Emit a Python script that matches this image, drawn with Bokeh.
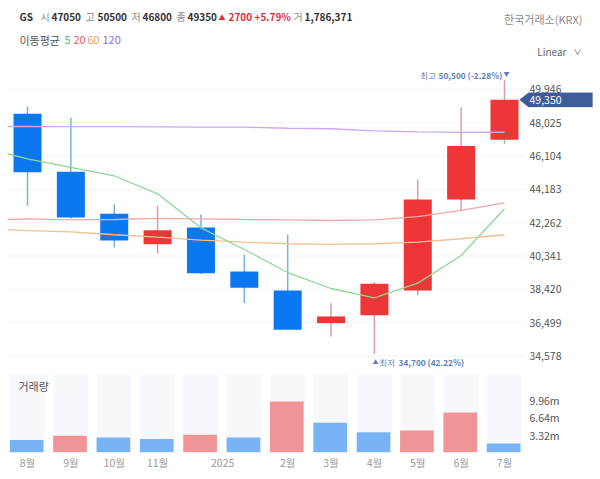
from bokeh.embed import file_html
from bokeh.layouts import column
from bokeh.models import ColumnDataSource, FixedTicker, Label, LinearAxis, NumeralTickFormatter, PolyAnnotation
from bokeh.plotting import figure
from bokeh.resources import INLINE

idx = list(range(12))
month_ticks = [0, 1, 2, 3, 4.5, 6, 7, 8, 9, 10, 11]
month_labels = ["8월", "9월", "10월", "11월", "2025", "2월", "3월", "4월", "5월", "6월", "7월"]

opens = [48550, 45200, 42780, 41020, 41990, 39450, 38350, 36470, 36930, 38350, 43600, 47050]
highs = [48960, 48310, 43310, 43260, 42740, 40430, 41580, 37620, 38830, 44750, 48920, 50500]
lows = [43240, 42500, 40830, 40470, 39300, 37620, 36090, 35700, 34700, 38080, 42970, 46800]
closes = [45180, 42560, 41240, 41830, 39350, 38510, 36090, 36860, 38740, 43600, 46680, 49350]
volumes = [2.38, 3.2, 2.88, 2.57, 3.4, 2.88, 9.79, 5.7, 3.91, 4.22, 7.68, 1.73]
volume_up = [False, True, False, False, True, False, True, False, False, True, True, False]
volume_bg = [14.86] * 12

ma_idx = [-0.46, 0, 1, 2, 3, 4, 5, 6, 7, 8, 9, 10, 11]
ma5 = [46240, 45940, 45460, 44970, 43930, 41970, 40720, 39390, 38470, 37930, 38780, 40370, 43070]
ma20 = [42450, 42490, 42430, 42450, 42510, 42490, 42450, 42430, 42390, 42430, 42620, 42970, 43410]
ma60 = [41870, 41810, 41740, 41570, 41430, 41260, 41140, 41050, 41020, 41050, 41140, 41340, 41570]
ma120 = [47810, 47810, 47800, 47800, 47790, 47780, 47770, 47710, 47680, 47560, 47500, 47470, 47480]

price_ticks = [34578, 36499, 38420, 40341, 42262, 44183, 46104, 48025, 49946]
volume_ticks = [3.32, 6.64, 9.96]
volume_tick_labels = ["3.32m", "6.64m", "9.96m"]

KR = "Noto Sans CJK KR"
UP = "#ee3538"
DOWN = "#0b78f0"
UP_WICK = "#dd9ca2"
DOWN_WICK = "#78b2dc"
W, H1, H2 = 596, 372, 100
BOTTOM = 20
# the frame takes the whole width so that the tag and the texts on the right are not cut
X_RANGE = (-0.623, 13.122)
AXIS_X = 11.53

up = [c >= o for o, c in zip(opens, closes)]
src = ColumnDataSource(dict(
    x=idx, o=opens, h=highs, l=lows, c=closes,
    top=[max(o, c) for o, c in zip(opens, closes)],
    bottom=[min(o, c) for o, c in zip(opens, closes)],
    body=[UP if u else DOWN for u in up],
    wick=[UP_WICK if u else DOWN_WICK for u in up],
))


def style_axis(axis, size):
    axis.axis_line_color = None
    axis.major_tick_line_color = None
    axis.minor_tick_line_color = None
    axis.major_tick_out = 0
    axis.major_label_standoff = 2
    axis.major_label_text_font = KR
    axis.major_label_text_font_size = size
    axis.major_label_text_color = "#555555"


p = figure(width=W, height=H1, x_range=X_RANGE, y_range=(33627, 55076), output_backend="svg",
           toolbar_location=None, x_axis_location=None, y_axis_location=None, min_border=0,
           outline_line_color=None)
p.grid.visible = False
yaxis = LinearAxis(ticker=FixedTicker(ticks=price_ticks), formatter=NumeralTickFormatter(format="0,0"),
                   fixed_location=AXIS_X)
style_axis(yaxis, "10.5px")
p.add_layout(yaxis, "right")

p.segment([-0.46] * len(price_ticks), price_ticks, [11.485] * len(price_ticks), price_ticks,
          color="#f3f4f6", line_width=1)
p.segment("x", "h", "x", "l", source=src, color="wick", line_width=1.5)
p.vbar("x", 0.646, "bottom", "top", source=src, fill_color="body", line_color=None)

p.line(ma_idx, ma120, color="#c9a8f5", line_width=1.3)
p.line(ma_idx, ma60, color="#f5c08f", line_width=1.3)
p.line(ma_idx, ma20, color="#f0a8a8", line_width=1.3)
p.line(ma_idx, ma5, color="#8fd694", line_width=1.3)


def text(fig, y_from_bottom, wx, s, color="#333333", size=11, bold=False, align="left"):
    # screen units here count from the bottom left of the frame
    fig.add_layout(Label(x=wx, y=y_from_bottom, x_units="screen", y_units="screen", text=s,
                         text_color=color, text_font=KR, text_font_size=f"{size}px",
                         text_font_style="bold" if bold else "normal", text_baseline="middle",
                         text_align=align))


GRAY = "#8a8a8a"
DARK = "#333333"
RED = "#e0323c"
header = [(19, "GS", DARK, True), (40, "시", GRAY, False), (51, "47050", DARK, True),
          (85, "고", GRAY, False), (97, "50500", DARK, True), (131, "저", GRAY, False),
          (142, "46800", DARK, True), (176, "종", GRAY, False), (187, "49350", DARK, True),
          (218, "▲", RED, False), (228, "2700", RED, True), (254, "+5.79%", RED, True),
          (293, "거", GRAY, False), (304, "1,786,371", DARK, True)]
for wx, s, color, bold in header:
    text(p, H1 - 16, wx, s, color, 7 if s == "▲" else 10, bold)

legend = [(19, "이동평균", "#555555"), (64, "5", "#5cb870"), (73, "20", "#e8606a"),
          (87, "60", "#e8a060"), (102, "120", "#8a6ae8")]
for wx, s, color in legend:
    text(p, H1 - 39, wx, s, color, 11)

text(p, H1 - 18, 582, "한국거래소(KRX)", "#8a8a8a", 11, align="right")
text(p, H1 - 51, 566, "Linear", "#666666", 10, align="right")
text(p, H1 - 51, 573, "∨", "#666666", 8)

BLUE_TEXT = "#6080b8"
text(p, H1 - 74, 420, "최고", BLUE_TEXT, 8.3)
text(p, H1 - 74, 438, "50,500 (-2.28%)", BLUE_TEXT, 8.3, True)
text(p, H1 - 73, 503, "▼", BLUE_TEXT, 6)
text(p, H1 - 361, 372, "▲", BLUE_TEXT, 6)
text(p, H1 - 361, 379, "최저", BLUE_TEXT, 8.3)
text(p, H1 - 361, 398, "34,700 (42.22%)", BLUE_TEXT, 8.3, True)

# price tag on the axis, follows the last close
TAG = "#3f5c9a"
last = closes[-1]
p.add_layout(PolyAnnotation(xs=[519, 528, 592, 592, 528],
                            ys=[last, last + 410, last + 410, last - 410, last - 410],
                            xs_units="screen", ys_units="data", fill_color=TAG, fill_alpha=1,
                            line_color=TAG))
p.add_layout(Label(x=529, y=last, x_units="screen", y_units="data", text=f"{last:,}",
                   text_color="white", text_font=KR, text_font_size="10.5px", text_baseline="middle"))

v = figure(width=W, height=H2, x_range=X_RANGE, y_range=(0, 15.36), output_backend="svg",
           toolbar_location=None, y_axis_location=None, min_border=0, min_border_bottom=BOTTOM,
           outline_line_color=None)
v.grid.visible = False
v.vbar(idx, 0.8, 0, volume_bg, fill_color="#f6f8fc", line_color=None)
v.vbar([i - 0.02 for i in idx], 0.777, 0, volumes, line_color=None,
       fill_color=["#f09497" if u else "#78b4f5" for u in volume_up])
vaxis = LinearAxis(ticker=FixedTicker(ticks=volume_ticks), fixed_location=AXIS_X,
                   major_label_overrides=dict(zip(volume_ticks, volume_tick_labels)))
style_axis(vaxis, "10.5px")
v.add_layout(vaxis, "right")
v.xaxis.ticker = FixedTicker(ticks=month_ticks)
v.xaxis.major_label_overrides = dict(zip(month_ticks, month_labels))
style_axis(v.xaxis[0], "10.5px")
v.xaxis.major_label_text_color = "#999999"
text(v, H2 - BOTTOM - (385 - H1), 18, "거래량", "#555555", 11)

layout = column(p, v, spacing=0)
open("out.html", "w").write(file_html(layout, INLINE))
